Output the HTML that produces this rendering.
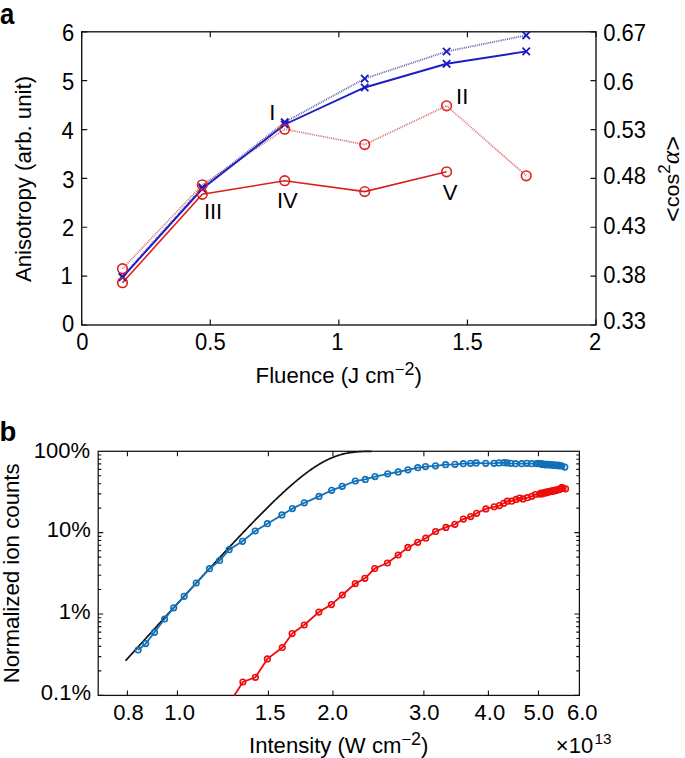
<!DOCTYPE html>
<html><head><meta charset="utf-8"><style>
html,body{margin:0;padding:0;background:#fff;}
svg{display:block;}
text{fill:#000;}
</style></head><body>
<svg width="685" height="758" viewBox="0 0 685 758">
<rect width="685" height="758" fill="#fff"/>
<g transform="translate(-0.10,23.80)"><text transform="scale(0.9200,1.0470)" font-family="Liberation Sans, sans-serif" font-size="28" font-weight="bold" text-anchor="start">a</text></g>
<rect x="81.7" y="31.8" width="514.3" height="293.2" fill="none" stroke="#111" stroke-width="1.35"/>
<path d="M81.7,325.00h5.5M596.0,325.00h-5.5M81.7,276.13h5.5M596.0,276.13h-5.5M81.7,227.27h5.5M596.0,227.27h-5.5M81.7,178.40h5.5M596.0,178.40h-5.5M81.7,129.53h5.5M596.0,129.53h-5.5M81.7,80.67h5.5M596.0,80.67h-5.5M81.7,31.80h5.5M596.0,31.80h-5.5M81.70,325.0v-5.5M81.70,31.8v5.5M210.27,325.0v-5.5M210.27,31.8v5.5M338.85,325.0v-5.5M338.85,31.8v5.5M467.42,325.0v-5.5M467.42,31.8v5.5M596.00,325.0v-5.5M596.00,31.8v5.5" stroke="#111" stroke-width="1.2" fill="none"/>
<g transform="translate(62.10,332.25)"><text transform="scale(1.0000,1.0500)" font-family="Liberation Sans, sans-serif" font-size="22" text-anchor="start">0</text></g>
<g transform="translate(60.55,284.40)"><text transform="scale(1.0000,1.0500)" font-family="Liberation Sans, sans-serif" font-size="22" text-anchor="start">1</text></g>
<g transform="translate(61.95,235.50)"><text transform="scale(1.0000,1.0500)" font-family="Liberation Sans, sans-serif" font-size="22" text-anchor="start">2</text></g>
<g transform="translate(62.35,187.50)"><text transform="scale(1.0000,1.0500)" font-family="Liberation Sans, sans-serif" font-size="22" text-anchor="start">3</text></g>
<g transform="translate(61.50,138.75)"><text transform="scale(1.0000,1.0500)" font-family="Liberation Sans, sans-serif" font-size="22" text-anchor="start">4</text></g>
<g transform="translate(61.95,90.15)"><text transform="scale(1.0000,1.0500)" font-family="Liberation Sans, sans-serif" font-size="22" text-anchor="start">5</text></g>
<g transform="translate(62.00,41.30)"><text transform="scale(1.0000,1.0500)" font-family="Liberation Sans, sans-serif" font-size="22" text-anchor="start">6</text></g>
<g transform="translate(603.20,329.40)"><text transform="scale(1.0000,1.0500)" font-family="Liberation Sans, sans-serif" font-size="22" text-anchor="start">0.33</text></g>
<g transform="translate(603.20,282.80)"><text transform="scale(1.0000,1.0500)" font-family="Liberation Sans, sans-serif" font-size="22" text-anchor="start">0.38</text></g>
<g transform="translate(603.20,233.50)"><text transform="scale(1.0000,1.0500)" font-family="Liberation Sans, sans-serif" font-size="22" text-anchor="start">0.43</text></g>
<g transform="translate(603.20,183.90)"><text transform="scale(1.0000,1.0500)" font-family="Liberation Sans, sans-serif" font-size="22" text-anchor="start">0.48</text></g>
<g transform="translate(603.20,137.70)"><text transform="scale(1.0000,1.0500)" font-family="Liberation Sans, sans-serif" font-size="22" text-anchor="start">0.53</text></g>
<g transform="translate(603.20,89.50)"><text transform="scale(1.0000,1.0500)" font-family="Liberation Sans, sans-serif" font-size="22" text-anchor="start">0.6</text></g>
<g transform="translate(603.20,41.00)"><text transform="scale(1.0000,1.0500)" font-family="Liberation Sans, sans-serif" font-size="22" text-anchor="start">0.67</text></g>
<g transform="translate(76.35,349.50)"><text transform="scale(1.0000,1.0500)" font-family="Liberation Sans, sans-serif" font-size="22" text-anchor="start">0</text></g>
<g transform="translate(195.05,349.50)"><text transform="scale(1.0000,1.0500)" font-family="Liberation Sans, sans-serif" font-size="22" text-anchor="start">0.5</text></g>
<g transform="translate(331.35,349.50)"><text transform="scale(1.0000,1.0500)" font-family="Liberation Sans, sans-serif" font-size="22" text-anchor="start">1</text></g>
<g transform="translate(452.25,349.50)"><text transform="scale(1.0000,1.0500)" font-family="Liberation Sans, sans-serif" font-size="22" text-anchor="start">1.5</text></g>
<g transform="translate(589.05,349.50)"><text transform="scale(1.0000,1.0500)" font-family="Liberation Sans, sans-serif" font-size="22" text-anchor="start">2</text></g>
<g transform="translate(255.60,383.20)"><text transform="scale(1.0086,1.0000)" font-family="Liberation Sans, sans-serif" font-size="22" text-anchor="start">Fluence (J cm<tspan dy="-8.1" font-size="16.5">−</tspan><tspan font-size="17.8">2</tspan><tspan dy="8.1">)</tspan></text></g>
<g transform="translate(31.10,179.00)"><text transform="rotate(-90) scale(1.0010,1.0000)" font-family="Liberation Sans, sans-serif" font-size="22.2" text-anchor="middle">Anisotropy (arb. unit)</text></g>
<g transform="translate(679.00,221.90)"><text transform="rotate(-90) scale(1.0272,1.0000)" font-family="Liberation Sans, sans-serif" font-size="21" text-anchor="start"><tspan font-size="24.5" dy="2.1">&lt;</tspan><tspan font-size="21" dy="-2.1">cos</tspan><tspan dy="-8.6" font-size="16.5">2</tspan><tspan dy="8.6" font-family="Liberation Serif, serif" font-style="italic" font-size="25">α</tspan><tspan font-size="24.5" dy="2.1">&gt;</tspan></text></g>
<polyline points="122.5,268.7 202.3,184.8 284.7,129.2 364.7,144.6 446.6,105.8 526.2,175.8" fill="none" stroke="#c84848" stroke-width="1.7" stroke-dasharray="0.9 1.0" stroke-opacity="0.85"/>
<polyline points="122.5,276.3 202.3,187.4 284.7,122.2 364.7,78.6 446.6,51.5 526.2,35.3" fill="none" stroke="#3a3a9a" stroke-width="1.8" stroke-dasharray="0.9 1.0" stroke-opacity="0.85"/>
<polyline points="122.5,282.7 202.3,194.3 284.7,180.7 364.7,191.6 446.6,171.8" fill="none" stroke="#dc1e1e" stroke-width="1.6"/>
<polyline points="122.5,277.3 202.3,188.8 284.7,124.5 364.7,87.5 446.6,63.8 526.2,51.4" fill="none" stroke="#1c1cc4" stroke-width="1.9"/>
<path d="M118.8,272.6L126.2,280.0M118.8,280.0L126.2,272.6M198.6,183.7L206.0,191.1M198.6,191.1L206.0,183.7M281.0,118.5L288.4,125.9M281.0,125.9L288.4,118.5M361.0,74.9L368.4,82.3M361.0,82.3L368.4,74.9M442.9,47.8L450.3,55.2M442.9,55.2L450.3,47.8M522.5,31.6L529.9,39.0M522.5,39.0L529.9,31.6M118.8,273.6L126.2,281.0M118.8,281.0L126.2,273.6M198.6,185.1L206.0,192.5M198.6,192.5L206.0,185.1M281.0,120.8L288.4,128.2M281.0,128.2L288.4,120.8M361.0,83.8L368.4,91.2M361.0,91.2L368.4,83.8M442.9,60.1L450.3,67.5M442.9,67.5L450.3,60.1M522.5,47.7L529.9,55.1M522.5,55.1L529.9,47.7" stroke="#1c1cc4" stroke-width="1.8" fill="none"/>
<circle cx="122.5" cy="268.7" r="4.8" fill="none" stroke="#dc1e1e" stroke-width="1.6"/>
<circle cx="202.3" cy="184.8" r="4.8" fill="none" stroke="#dc1e1e" stroke-width="1.6"/>
<circle cx="284.7" cy="129.2" r="4.8" fill="none" stroke="#dc1e1e" stroke-width="1.6"/>
<circle cx="364.7" cy="144.6" r="4.8" fill="none" stroke="#dc1e1e" stroke-width="1.6"/>
<circle cx="446.6" cy="105.8" r="4.8" fill="none" stroke="#dc1e1e" stroke-width="1.6"/>
<circle cx="526.2" cy="175.8" r="4.8" fill="none" stroke="#dc1e1e" stroke-width="1.6"/>
<circle cx="122.5" cy="282.7" r="4.8" fill="none" stroke="#dc1e1e" stroke-width="1.6"/>
<circle cx="202.3" cy="194.3" r="4.8" fill="none" stroke="#dc1e1e" stroke-width="1.6"/>
<circle cx="284.7" cy="180.7" r="4.8" fill="none" stroke="#dc1e1e" stroke-width="1.6"/>
<circle cx="364.7" cy="191.6" r="4.8" fill="none" stroke="#dc1e1e" stroke-width="1.6"/>
<circle cx="446.6" cy="171.8" r="4.8" fill="none" stroke="#dc1e1e" stroke-width="1.6"/>
<g transform="translate(269.30,119.50)"><text font-family="Liberation Sans, sans-serif" font-size="22" text-anchor="start">I</text></g>
<g transform="translate(456.10,103.70)"><text font-family="Liberation Sans, sans-serif" font-size="22" text-anchor="start">II</text></g>
<g transform="translate(203.90,218.70)"><text font-family="Liberation Sans, sans-serif" font-size="22" text-anchor="start">III</text></g>
<g transform="translate(276.90,207.50)"><text font-family="Liberation Sans, sans-serif" font-size="22" text-anchor="start">IV</text></g>
<g transform="translate(442.70,199.80)"><text font-family="Liberation Sans, sans-serif" font-size="22" text-anchor="start">V</text></g>
<g transform="translate(-0.50,441.00)"><text font-family="Liberation Sans, sans-serif" font-size="27.5" font-weight="bold" text-anchor="start">b</text></g>
<rect x="98.2" y="451.3" width="481.2" height="244.09999999999997" fill="none" stroke="#111" stroke-width="1.25"/>
<path d="M98.2,695.40h5.0M579.4,695.40h-5.0M98.2,670.91h3.1M579.4,670.91h-3.1M98.2,656.58h3.1M579.4,656.58h-3.1M98.2,646.41h3.1M579.4,646.41h-3.1M98.2,638.53h3.1M579.4,638.53h-3.1M98.2,632.08h3.1M579.4,632.08h-3.1M98.2,626.64h3.1M579.4,626.64h-3.1M98.2,621.92h3.1M579.4,621.92h-3.1M98.2,617.76h3.1M579.4,617.76h-3.1M98.2,614.03h5.0M579.4,614.03h-5.0M98.2,589.54h3.1M579.4,589.54h-3.1M98.2,575.21h3.1M579.4,575.21h-3.1M98.2,565.05h3.1M579.4,565.05h-3.1M98.2,557.16h3.1M579.4,557.16h-3.1M98.2,550.72h3.1M579.4,550.72h-3.1M98.2,545.27h3.1M579.4,545.27h-3.1M98.2,540.55h3.1M579.4,540.55h-3.1M98.2,536.39h3.1M579.4,536.39h-3.1M98.2,532.67h5.0M579.4,532.67h-5.0M98.2,508.17h3.1M579.4,508.17h-3.1M98.2,493.84h3.1M579.4,493.84h-3.1M98.2,483.68h3.1M579.4,483.68h-3.1M98.2,475.79h3.1M579.4,475.79h-3.1M98.2,469.35h3.1M579.4,469.35h-3.1M98.2,463.90h3.1M579.4,463.90h-3.1M98.2,459.19h3.1M579.4,459.19h-3.1M98.2,455.02h3.1M579.4,455.02h-3.1M127.40,695.4v-5M127.40,451.3v5M177.45,695.4v-5M177.45,451.3v5M268.40,695.4v-5M268.40,451.3v5M332.93,695.4v-5M332.93,451.3v5M423.88,695.4v-5M423.88,451.3v5M488.41,695.4v-5M488.41,451.3v5M538.47,695.4v-5M538.47,451.3v5" stroke="#111" stroke-width="1.1" fill="none"/>
<g transform="translate(33.80,457.60)"><text transform="scale(1.0000,1.0300)" font-family="Liberation Sans, sans-serif" font-size="22" text-anchor="start">100%</text></g>
<g transform="translate(46.80,537.00)"><text transform="scale(1.0000,1.0300)" font-family="Liberation Sans, sans-serif" font-size="22" text-anchor="start">10%</text></g>
<g transform="translate(58.80,619.40)"><text transform="scale(1.0000,1.0300)" font-family="Liberation Sans, sans-serif" font-size="22" text-anchor="start">1%</text></g>
<g transform="translate(40.80,700.40)"><text transform="scale(1.0000,1.0300)" font-family="Liberation Sans, sans-serif" font-size="22" text-anchor="start">0.1%</text></g>
<g transform="translate(113.20,720.00)"><text transform="scale(1.0000,1.0300)" font-family="Liberation Sans, sans-serif" font-size="22" text-anchor="start">0.8</text></g>
<g transform="translate(164.30,720.00)"><text transform="scale(1.0000,1.0300)" font-family="Liberation Sans, sans-serif" font-size="22" text-anchor="start">1.0</text></g>
<g transform="translate(254.80,720.00)"><text transform="scale(1.0000,1.0300)" font-family="Liberation Sans, sans-serif" font-size="22" text-anchor="start">1.5</text></g>
<g transform="translate(317.35,720.00)"><text transform="scale(1.0000,1.0300)" font-family="Liberation Sans, sans-serif" font-size="22" text-anchor="start">2.0</text></g>
<g transform="translate(408.95,720.00)"><text transform="scale(1.0000,1.0300)" font-family="Liberation Sans, sans-serif" font-size="22" text-anchor="start">3.0</text></g>
<g transform="translate(474.60,720.00)"><text transform="scale(1.0000,1.0300)" font-family="Liberation Sans, sans-serif" font-size="22" text-anchor="start">4.0</text></g>
<g transform="translate(523.50,720.00)"><text transform="scale(1.0000,1.0300)" font-family="Liberation Sans, sans-serif" font-size="22" text-anchor="start">5.0</text></g>
<g transform="translate(566.90,720.00)"><text transform="scale(1.0000,1.0300)" font-family="Liberation Sans, sans-serif" font-size="22" text-anchor="start">6.0</text></g>
<g transform="translate(249.00,752.60)"><text transform="scale(1.0063,1.0000)" font-family="Liberation Sans, sans-serif" font-size="22" text-anchor="start">Intensity (W cm<tspan dy="-8.1" font-size="16.5">−</tspan><tspan font-size="17.8">2</tspan><tspan dy="8.1">)</tspan></text></g>
<g transform="translate(555.80,753.00)"><text font-family="Liberation Sans, sans-serif" font-size="22" text-anchor="start">×10<tspan dx="1.3" dy="-8.6" font-size="15.3">13</tspan></text></g>
<g transform="translate(19.20,683.30)"><text transform="rotate(-90) scale(1.0112,1.0000)" font-family="Liberation Sans, sans-serif" font-size="22" text-anchor="start">Normalized ion counts</text></g>
<polyline points="125.5,660.80 126.5,659.69 127.5,658.59 128.5,657.49 129.5,656.39 130.5,655.28 131.5,654.18 132.5,653.08 133.5,651.97 134.5,650.87 135.5,649.77 136.5,648.67 137.5,647.56 138.5,646.46 139.5,645.36 140.5,644.26 141.5,643.15 142.5,642.05 143.5,640.95 144.5,639.85 145.5,638.75 146.5,637.64 147.5,636.54 148.5,635.44 149.5,634.34 150.5,633.24 151.5,632.14 152.5,631.03 153.5,629.93 154.5,628.83 155.5,627.73 156.5,626.63 157.5,625.53 158.5,624.43 159.5,623.33 160.5,622.23 161.5,621.13 162.5,620.03 163.5,618.93 164.5,617.83 165.5,616.73 166.5,615.63 167.5,614.53 168.5,613.43 169.5,612.33 170.5,611.23 171.5,610.13 172.5,609.03 173.5,607.93 174.5,606.84 175.5,605.74 176.5,604.64 177.5,603.54 178.5,602.44 179.5,601.35 180.5,600.25 181.5,599.15 182.5,598.06 183.5,596.96 184.5,595.87 185.5,594.77 186.5,593.67 187.5,592.58 188.5,591.48 189.5,590.39 190.5,589.30 191.5,588.20 192.5,587.11 193.5,586.01 194.5,584.92 195.5,583.83 196.5,582.74 197.5,581.65 198.5,580.55 199.5,579.46 200.5,578.37 201.5,577.28 202.5,576.19 203.5,575.10 204.5,574.02 205.5,572.93 206.5,571.84 207.5,570.75 208.5,569.67 209.5,568.58 210.5,567.49 211.5,566.41 212.5,565.33 213.5,564.24 214.5,563.16 215.5,562.08 216.5,561.00 217.5,559.91 218.5,558.83 219.5,557.76 220.5,556.68 221.5,555.60 222.5,554.52 223.5,553.45 224.5,552.37 225.5,551.30 226.5,550.23 227.5,549.15 228.5,548.08 229.5,547.01 230.5,545.94 231.5,544.88 232.5,543.81 233.5,542.74 234.5,541.68 235.5,540.62 236.5,539.55 237.5,538.49 238.5,537.44 239.5,536.38 240.5,535.32 241.5,534.27 242.5,533.21 243.5,532.16 244.5,531.11 245.5,530.07 246.5,529.02 247.5,527.98 248.5,526.93 249.5,525.89 250.5,524.85 251.5,523.82 252.5,522.78 253.5,521.75 254.5,520.72 255.5,519.70 256.5,518.67 257.5,517.65 258.5,516.63 259.5,515.61 260.5,514.60 261.5,513.58 262.5,512.57 263.5,511.57 264.5,510.57 265.5,509.57 266.5,508.57 267.5,507.58 268.5,506.59 269.5,505.60 270.5,504.62 271.5,503.64 272.5,502.66 273.5,501.69 274.5,500.73 275.5,499.76 276.5,498.81 277.5,497.85 278.5,496.90 279.5,495.96 280.5,495.02 281.5,494.09 282.5,493.16 283.5,492.23 284.5,491.31 285.5,490.40 286.5,489.49 287.5,488.59 288.5,487.70 289.5,486.81 290.5,485.93 291.5,485.05 292.5,484.18 293.5,483.32 294.5,482.47 295.5,481.62 296.5,480.78 297.5,479.95 298.5,479.12 299.5,478.31 300.5,477.50 301.5,476.70 302.5,475.91 303.5,475.13 304.5,474.36 305.5,473.60 306.5,472.85 307.5,472.11 308.5,471.38 309.5,470.66 310.5,469.95 311.5,469.25 312.5,468.56 313.5,467.88 314.5,467.22 315.5,466.57 316.5,465.92 317.5,465.30 318.5,464.68 319.5,464.08 320.5,463.49 321.5,462.91 322.5,462.35 323.5,461.80 324.5,461.27 325.5,460.74 326.5,460.24 327.5,459.75 328.5,459.27 329.5,458.81 330.5,458.36 331.5,457.93 332.5,457.51 333.5,457.11 334.5,456.72 335.5,456.35 336.5,455.99 337.5,455.65 338.5,455.33 339.5,455.02 340.5,454.72 341.5,454.44 342.5,454.18 343.5,453.93 344.5,453.69 345.5,453.47 346.5,453.27 347.5,453.07 348.5,452.89 349.5,452.73 350.5,452.57 351.5,452.43 352.5,452.30 353.5,452.18 354.5,452.07 355.5,451.97 356.5,451.88 357.5,451.80 358.5,451.73 359.5,451.67 360.5,451.61 361.5,451.56 362.5,451.52 363.5,451.48 364.5,451.45 365.5,451.42 366.5,451.40 367.5,451.38 368.5,451.37 369.5,451.35 370.5,451.34 371.5,451.33" fill="none" stroke="#111" stroke-width="1.7" stroke-linejoin="round"/>
<polyline points="138.1,650 145.7,643.6 154.5,632.3 164.6,619.0 173.7,607.8 184.2,596.3 196.2,583.0 209.5,568.7 219.6,560.5 229.1,549.7 242.5,541.3 255.2,531.0 267.4,523.7 281.9,514.9 292.4,508.6 304.3,502.8 319.0,496.4 331.7,490.3 342.2,486.3 355.3,481.0 365.3,479.4 375,476.6 387.7,473.8 398.2,471.9 408,469.8 417.8,467.7 425.5,466.6 435.5,465.8 445.6,464.7 455,464.3 463.3,463.7 470.5,463.3 476.2,462.9 485.7,463.3 494,463.3 499,462.9 504,462.7 507,462.9 510.7,463.3 515.5,463.7 521.7,463.7 526.9,463.3 531.6,463.7 536.4,463.7 538.5,463.4 540,464.0 541.3,463.6 542.5,464.4 543.8,464.0 545,464.8 546.2,464.3 547.4,465.0 548.6,464.4 549.8,465.0 551,464.6 552.2,465.2 553.4,464.8 554.6,465.4 555.8,465.0 557,465.6 558.2,465.2 559.4,465.8 560.6,465.5 561.8,466.0 564.8,467.1" fill="none" stroke="#1170b8" stroke-width="1.8"/>
<polyline points="234.3,695.4 242.9,682 255.4,677.3 267.4,658.9 282.3,647.5 292.1,633.6 304.2,625 318.9,612.1 331.4,604.6 342.3,595 355.3,583.6 364.9,578.3 374.7,568.5 387.4,563 398.2,555 407.9,547.4 417.7,542.3 425.8,538.2 435.6,531.5 445.9,527.4 454.9,524.3 463.4,519.1 470.7,516.6 476.6,513.3 485.9,508.9 494.2,506.8 499.4,505.6 503.8,503.3 507.3,501.2 511.7,501.2 516.1,499.4 519.6,498 523,498.9 527.4,497.7 531.8,496.3 535.3,494.5 539.7,494.2 541,493.2 542.2,493.8 543.4,492.8 544.6,493.2 545.8,492.2 547,492.6 548.2,491.6 549.4,492.0 550.6,491.1 551.8,491.4 553,490.6 554.2,490.9 555.4,490.1 556.6,490.3 557.8,489.6 559,489.7 560.2,488.9 561.8,487.4 563,488.3 565.6,488.8" fill="none" stroke="#f00c0c" stroke-width="1.8"/>
<circle cx="138.1" cy="650" r="2.8" fill="none" stroke="#1170b8" stroke-width="1.6"/>
<circle cx="145.7" cy="643.6" r="2.8" fill="none" stroke="#1170b8" stroke-width="1.6"/>
<circle cx="154.5" cy="632.3" r="2.8" fill="none" stroke="#1170b8" stroke-width="1.6"/>
<circle cx="164.6" cy="619.0" r="2.8" fill="none" stroke="#1170b8" stroke-width="1.6"/>
<circle cx="173.7" cy="607.8" r="2.8" fill="none" stroke="#1170b8" stroke-width="1.6"/>
<circle cx="184.2" cy="596.3" r="2.8" fill="none" stroke="#1170b8" stroke-width="1.6"/>
<circle cx="196.2" cy="583.0" r="2.8" fill="none" stroke="#1170b8" stroke-width="1.6"/>
<circle cx="209.5" cy="568.7" r="2.8" fill="none" stroke="#1170b8" stroke-width="1.6"/>
<circle cx="219.6" cy="560.5" r="2.8" fill="none" stroke="#1170b8" stroke-width="1.6"/>
<circle cx="229.1" cy="549.7" r="2.8" fill="none" stroke="#1170b8" stroke-width="1.6"/>
<circle cx="242.5" cy="541.3" r="2.8" fill="none" stroke="#1170b8" stroke-width="1.6"/>
<circle cx="255.2" cy="531.0" r="2.8" fill="none" stroke="#1170b8" stroke-width="1.6"/>
<circle cx="267.4" cy="523.7" r="2.8" fill="none" stroke="#1170b8" stroke-width="1.6"/>
<circle cx="281.9" cy="514.9" r="2.8" fill="none" stroke="#1170b8" stroke-width="1.6"/>
<circle cx="292.4" cy="508.6" r="2.8" fill="none" stroke="#1170b8" stroke-width="1.6"/>
<circle cx="304.3" cy="502.8" r="2.8" fill="none" stroke="#1170b8" stroke-width="1.6"/>
<circle cx="319.0" cy="496.4" r="2.8" fill="none" stroke="#1170b8" stroke-width="1.6"/>
<circle cx="331.7" cy="490.3" r="2.8" fill="none" stroke="#1170b8" stroke-width="1.6"/>
<circle cx="342.2" cy="486.3" r="2.8" fill="none" stroke="#1170b8" stroke-width="1.6"/>
<circle cx="355.3" cy="481.0" r="2.8" fill="none" stroke="#1170b8" stroke-width="1.6"/>
<circle cx="365.3" cy="479.4" r="2.8" fill="none" stroke="#1170b8" stroke-width="1.6"/>
<circle cx="375" cy="476.6" r="2.8" fill="none" stroke="#1170b8" stroke-width="1.6"/>
<circle cx="387.7" cy="473.8" r="2.8" fill="none" stroke="#1170b8" stroke-width="1.6"/>
<circle cx="398.2" cy="471.9" r="2.8" fill="none" stroke="#1170b8" stroke-width="1.6"/>
<circle cx="408" cy="469.8" r="2.8" fill="none" stroke="#1170b8" stroke-width="1.6"/>
<circle cx="417.8" cy="467.7" r="2.8" fill="none" stroke="#1170b8" stroke-width="1.6"/>
<circle cx="425.5" cy="466.6" r="2.8" fill="none" stroke="#1170b8" stroke-width="1.6"/>
<circle cx="435.5" cy="465.8" r="2.8" fill="none" stroke="#1170b8" stroke-width="1.6"/>
<circle cx="445.6" cy="464.7" r="2.8" fill="none" stroke="#1170b8" stroke-width="1.6"/>
<circle cx="455" cy="464.3" r="2.8" fill="none" stroke="#1170b8" stroke-width="1.6"/>
<circle cx="463.3" cy="463.7" r="2.8" fill="none" stroke="#1170b8" stroke-width="1.6"/>
<circle cx="470.5" cy="463.3" r="2.8" fill="none" stroke="#1170b8" stroke-width="1.6"/>
<circle cx="476.2" cy="462.9" r="2.8" fill="none" stroke="#1170b8" stroke-width="1.6"/>
<circle cx="485.7" cy="463.3" r="2.8" fill="none" stroke="#1170b8" stroke-width="1.6"/>
<circle cx="494" cy="463.3" r="2.8" fill="none" stroke="#1170b8" stroke-width="1.6"/>
<circle cx="499" cy="462.9" r="2.8" fill="none" stroke="#1170b8" stroke-width="1.6"/>
<circle cx="504" cy="462.7" r="2.8" fill="none" stroke="#1170b8" stroke-width="1.6"/>
<circle cx="507" cy="462.9" r="2.8" fill="none" stroke="#1170b8" stroke-width="1.6"/>
<circle cx="510.7" cy="463.3" r="2.8" fill="none" stroke="#1170b8" stroke-width="1.6"/>
<circle cx="515.5" cy="463.7" r="2.8" fill="none" stroke="#1170b8" stroke-width="1.6"/>
<circle cx="521.7" cy="463.7" r="2.8" fill="none" stroke="#1170b8" stroke-width="1.6"/>
<circle cx="526.9" cy="463.3" r="2.8" fill="none" stroke="#1170b8" stroke-width="1.6"/>
<circle cx="531.6" cy="463.7" r="2.8" fill="none" stroke="#1170b8" stroke-width="1.6"/>
<circle cx="536.4" cy="463.7" r="2.8" fill="none" stroke="#1170b8" stroke-width="1.6"/>
<circle cx="538.5" cy="463.4" r="2.8" fill="none" stroke="#1170b8" stroke-width="1.6"/>
<circle cx="540" cy="464.0" r="2.8" fill="none" stroke="#1170b8" stroke-width="1.6"/>
<circle cx="541.3" cy="463.6" r="2.8" fill="none" stroke="#1170b8" stroke-width="1.6"/>
<circle cx="542.5" cy="464.4" r="2.8" fill="none" stroke="#1170b8" stroke-width="1.6"/>
<circle cx="543.8" cy="464.0" r="2.8" fill="none" stroke="#1170b8" stroke-width="1.6"/>
<circle cx="545" cy="464.8" r="2.8" fill="none" stroke="#1170b8" stroke-width="1.6"/>
<circle cx="546.2" cy="464.3" r="2.8" fill="none" stroke="#1170b8" stroke-width="1.6"/>
<circle cx="547.4" cy="465.0" r="2.8" fill="none" stroke="#1170b8" stroke-width="1.6"/>
<circle cx="548.6" cy="464.4" r="2.8" fill="none" stroke="#1170b8" stroke-width="1.6"/>
<circle cx="549.8" cy="465.0" r="2.8" fill="none" stroke="#1170b8" stroke-width="1.6"/>
<circle cx="551" cy="464.6" r="2.8" fill="none" stroke="#1170b8" stroke-width="1.6"/>
<circle cx="552.2" cy="465.2" r="2.8" fill="none" stroke="#1170b8" stroke-width="1.6"/>
<circle cx="553.4" cy="464.8" r="2.8" fill="none" stroke="#1170b8" stroke-width="1.6"/>
<circle cx="554.6" cy="465.4" r="2.8" fill="none" stroke="#1170b8" stroke-width="1.6"/>
<circle cx="555.8" cy="465.0" r="2.8" fill="none" stroke="#1170b8" stroke-width="1.6"/>
<circle cx="557" cy="465.6" r="2.8" fill="none" stroke="#1170b8" stroke-width="1.6"/>
<circle cx="558.2" cy="465.2" r="2.8" fill="none" stroke="#1170b8" stroke-width="1.6"/>
<circle cx="559.4" cy="465.8" r="2.8" fill="none" stroke="#1170b8" stroke-width="1.6"/>
<circle cx="560.6" cy="465.5" r="2.8" fill="none" stroke="#1170b8" stroke-width="1.6"/>
<circle cx="561.8" cy="466.0" r="2.8" fill="none" stroke="#1170b8" stroke-width="1.6"/>
<circle cx="564.8" cy="467.1" r="2.8" fill="none" stroke="#1170b8" stroke-width="1.6"/>
<circle cx="242.9" cy="682" r="2.8" fill="none" stroke="#f00c0c" stroke-width="1.6"/>
<circle cx="255.4" cy="677.3" r="2.8" fill="none" stroke="#f00c0c" stroke-width="1.6"/>
<circle cx="267.4" cy="658.9" r="2.8" fill="none" stroke="#f00c0c" stroke-width="1.6"/>
<circle cx="282.3" cy="647.5" r="2.8" fill="none" stroke="#f00c0c" stroke-width="1.6"/>
<circle cx="292.1" cy="633.6" r="2.8" fill="none" stroke="#f00c0c" stroke-width="1.6"/>
<circle cx="304.2" cy="625" r="2.8" fill="none" stroke="#f00c0c" stroke-width="1.6"/>
<circle cx="318.9" cy="612.1" r="2.8" fill="none" stroke="#f00c0c" stroke-width="1.6"/>
<circle cx="331.4" cy="604.6" r="2.8" fill="none" stroke="#f00c0c" stroke-width="1.6"/>
<circle cx="342.3" cy="595" r="2.8" fill="none" stroke="#f00c0c" stroke-width="1.6"/>
<circle cx="355.3" cy="583.6" r="2.8" fill="none" stroke="#f00c0c" stroke-width="1.6"/>
<circle cx="364.9" cy="578.3" r="2.8" fill="none" stroke="#f00c0c" stroke-width="1.6"/>
<circle cx="374.7" cy="568.5" r="2.8" fill="none" stroke="#f00c0c" stroke-width="1.6"/>
<circle cx="387.4" cy="563" r="2.8" fill="none" stroke="#f00c0c" stroke-width="1.6"/>
<circle cx="398.2" cy="555" r="2.8" fill="none" stroke="#f00c0c" stroke-width="1.6"/>
<circle cx="407.9" cy="547.4" r="2.8" fill="none" stroke="#f00c0c" stroke-width="1.6"/>
<circle cx="417.7" cy="542.3" r="2.8" fill="none" stroke="#f00c0c" stroke-width="1.6"/>
<circle cx="425.8" cy="538.2" r="2.8" fill="none" stroke="#f00c0c" stroke-width="1.6"/>
<circle cx="435.6" cy="531.5" r="2.8" fill="none" stroke="#f00c0c" stroke-width="1.6"/>
<circle cx="445.9" cy="527.4" r="2.8" fill="none" stroke="#f00c0c" stroke-width="1.6"/>
<circle cx="454.9" cy="524.3" r="2.8" fill="none" stroke="#f00c0c" stroke-width="1.6"/>
<circle cx="463.4" cy="519.1" r="2.8" fill="none" stroke="#f00c0c" stroke-width="1.6"/>
<circle cx="470.7" cy="516.6" r="2.8" fill="none" stroke="#f00c0c" stroke-width="1.6"/>
<circle cx="476.6" cy="513.3" r="2.8" fill="none" stroke="#f00c0c" stroke-width="1.6"/>
<circle cx="485.9" cy="508.9" r="2.8" fill="none" stroke="#f00c0c" stroke-width="1.6"/>
<circle cx="494.2" cy="506.8" r="2.8" fill="none" stroke="#f00c0c" stroke-width="1.6"/>
<circle cx="499.4" cy="505.6" r="2.8" fill="none" stroke="#f00c0c" stroke-width="1.6"/>
<circle cx="503.8" cy="503.3" r="2.8" fill="none" stroke="#f00c0c" stroke-width="1.6"/>
<circle cx="507.3" cy="501.2" r="2.8" fill="none" stroke="#f00c0c" stroke-width="1.6"/>
<circle cx="511.7" cy="501.2" r="2.8" fill="none" stroke="#f00c0c" stroke-width="1.6"/>
<circle cx="516.1" cy="499.4" r="2.8" fill="none" stroke="#f00c0c" stroke-width="1.6"/>
<circle cx="519.6" cy="498" r="2.8" fill="none" stroke="#f00c0c" stroke-width="1.6"/>
<circle cx="523" cy="498.9" r="2.8" fill="none" stroke="#f00c0c" stroke-width="1.6"/>
<circle cx="527.4" cy="497.7" r="2.8" fill="none" stroke="#f00c0c" stroke-width="1.6"/>
<circle cx="531.8" cy="496.3" r="2.8" fill="none" stroke="#f00c0c" stroke-width="1.6"/>
<circle cx="535.3" cy="494.5" r="2.8" fill="none" stroke="#f00c0c" stroke-width="1.6"/>
<circle cx="539.7" cy="494.2" r="2.8" fill="none" stroke="#f00c0c" stroke-width="1.6"/>
<circle cx="541" cy="493.2" r="2.8" fill="none" stroke="#f00c0c" stroke-width="1.6"/>
<circle cx="542.2" cy="493.8" r="2.8" fill="none" stroke="#f00c0c" stroke-width="1.6"/>
<circle cx="543.4" cy="492.8" r="2.8" fill="none" stroke="#f00c0c" stroke-width="1.6"/>
<circle cx="544.6" cy="493.2" r="2.8" fill="none" stroke="#f00c0c" stroke-width="1.6"/>
<circle cx="545.8" cy="492.2" r="2.8" fill="none" stroke="#f00c0c" stroke-width="1.6"/>
<circle cx="547" cy="492.6" r="2.8" fill="none" stroke="#f00c0c" stroke-width="1.6"/>
<circle cx="548.2" cy="491.6" r="2.8" fill="none" stroke="#f00c0c" stroke-width="1.6"/>
<circle cx="549.4" cy="492.0" r="2.8" fill="none" stroke="#f00c0c" stroke-width="1.6"/>
<circle cx="550.6" cy="491.1" r="2.8" fill="none" stroke="#f00c0c" stroke-width="1.6"/>
<circle cx="551.8" cy="491.4" r="2.8" fill="none" stroke="#f00c0c" stroke-width="1.6"/>
<circle cx="553" cy="490.6" r="2.8" fill="none" stroke="#f00c0c" stroke-width="1.6"/>
<circle cx="554.2" cy="490.9" r="2.8" fill="none" stroke="#f00c0c" stroke-width="1.6"/>
<circle cx="555.4" cy="490.1" r="2.8" fill="none" stroke="#f00c0c" stroke-width="1.6"/>
<circle cx="556.6" cy="490.3" r="2.8" fill="none" stroke="#f00c0c" stroke-width="1.6"/>
<circle cx="557.8" cy="489.6" r="2.8" fill="none" stroke="#f00c0c" stroke-width="1.6"/>
<circle cx="559" cy="489.7" r="2.8" fill="none" stroke="#f00c0c" stroke-width="1.6"/>
<circle cx="560.2" cy="488.9" r="2.8" fill="none" stroke="#f00c0c" stroke-width="1.6"/>
<circle cx="561.8" cy="487.4" r="2.8" fill="none" stroke="#f00c0c" stroke-width="1.6"/>
<circle cx="563" cy="488.3" r="2.8" fill="none" stroke="#f00c0c" stroke-width="1.6"/>
<circle cx="565.6" cy="488.8" r="2.8" fill="none" stroke="#f00c0c" stroke-width="1.6"/>
</svg>
</body></html>
